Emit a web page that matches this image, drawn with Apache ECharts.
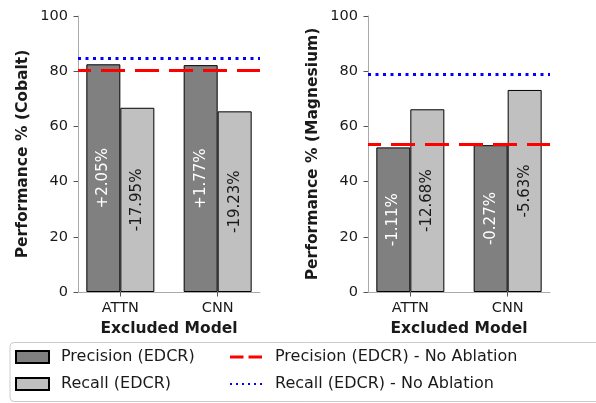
<!DOCTYPE html>
<html>
<head>
<meta charset="utf-8">
<script src="https://cdn.jsdelivr.net/npm/echarts@6/dist/echarts.min.js"></script>
<style>html,body{margin:0;padding:0;background:#fff;}#c{width:596px;height:403px;}</style>
</head>
<body>
<div id="c"></div>
<script>
// ---- data ----
var categories = ['ATTN', 'CNN'];
var yTicks = [0, 20, 40, 60, 80, 100];

var cobaltPrecision = [82.5, 82.2];
var cobaltRecall = [66.75, 65.45];
var cobaltPrecisionBase = 80.45;
var cobaltRecallBase = 84.7;
var cobaltPrecisionChange = ['+2.05%', '+1.77%'];
var cobaltRecallChange = ['-17.95%', '-19.23%'];

var magPrecision = [52.4, 53.2];
var magRecall = [66.2, 73.2];
var magPrecisionBase = 53.5;
var magRecallBase = 78.85;
var magPrecisionChange = ['-1.11%', '-0.27%'];
var magRecallChange = ['-12.68%', '-5.63%'];

var panelTitles = ['Performance % (Cobalt)', 'Performance % (Magnesium)'];
var xTitle = 'Excluded Model';
var names = ['Precision (EDCR)', 'Recall (EDCR)', 'Precision (EDCR) - No Ablation', 'Recall (EDCR) - No Ablation'];

// ---- chart ----
var FONT = 'DejaVu Sans';
var TXT = '#1a1a1a';
var chart = echarts.init(document.getElementById('c'), null, {renderer: 'canvas'});

function pairs(vals) { return vals.map(function (v, i) { return [i, v]; }); }

function xAxis(idx) {
  return {
    type: 'value', gridIndex: idx, min: -0.435, max: 1.435,
    splitLine: {show: false},
    axisLine: {show: true, onZero: false, lineStyle: {color: '#aaaaaa', width: 1}},
    axisTick: {show: true, length: 4.5, customValues: [0, 1], lineStyle: {color: '#555'}},
    axisLabel: {show: true, customValues: [0, 1], margin: 9, fontFamily: FONT, fontSize: 14.5, color: TXT,
      formatter: function (v) { return categories[Math.round(v)]; }},
    name: xTitle, nameLocation: 'middle', nameGap: 29,
    nameTextStyle: {fontFamily: FONT, fontSize: 15.5, fontWeight: 'bold', color: TXT}
  };
}
function yAxis(idx) {
  return {
    type: 'value', gridIndex: idx, min: yTicks[0], max: yTicks[yTicks.length - 1], interval: 20,
    splitLine: {show: false},
    axisLine: {show: true, onZero: false, lineStyle: {color: '#aaaaaa', width: 1}},
    axisTick: {show: true, length: 4.5, lineStyle: {color: '#555'}},
    axisLabel: {margin: 10, fontFamily: FONT, fontSize: 14.5, color: TXT},
    name: panelTitles[idx], nameLocation: 'middle', nameGap: 47, nameRotate: 90,
    nameTextStyle: {fontFamily: FONT, fontSize: 15.5, fontWeight: 'bold', color: TXT}
  };
}
function barSeries(idx, name, vals, changes, color, labelColor) {
  return {
    type: 'bar', name: name, xAxisIndex: idx, yAxisIndex: idx,
    data: pairs(vals), barWidth: 34, barGap: '0%',
    itemStyle: {color: color, borderColor: '#000', borderWidth: 1},
    label: {show: true, position: 'inside', rotate: 90, fontFamily: FONT, fontSize: 15, color: labelColor,
      formatter: function (p) { return changes[p.dataIndex]; }},
    emphasis: {disabled: true}, silent: true, z: 2
  };
}
function lineSeries(idx, name, base, color, dash, offset) {
  return {
    type: 'line', name: name, xAxisIndex: idx, yAxisIndex: idx, data: [],
    itemStyle: {color: color}, lineStyle: {color: color},
    markLine: {
      silent: true, symbol: ['none', 'none'], label: {show: false},
      lineStyle: {color: color, width: 3, type: dash, dashOffset: offset, cap: 'butt'},
      emphasis: {disabled: true},
      data: [{yAxis: base}]
    },
    z: 5
  };
}

var PREC = '#808080', REC = '#c0c0c0';
var dashIcon = 'path://M0,0h13.5v3h-13.5zM18.5,0h13.5v3h-13.5z';
var dotIcon = 'path://M0,0h2v2h-2zM6,0h2v2h-2zM12,0h2v2h-2zM18,0h2v2h-2zM24,0h2v2h-2zM30,0h2v2h-2z';

var legendText = {fontFamily: FONT, fontSize: 16, color: TXT, lineHeight: 18};

chart.setOption({
  animation: false,
  backgroundColor: '#fff',
  grid: [
    {left: 78, top: 16, width: 182, height: 276, containLabel: false},
    {left: 368, top: 16, width: 182, height: 276, containLabel: false}
  ],
  xAxis: [xAxis(0), xAxis(1)],
  yAxis: [yAxis(0), yAxis(1)],
  graphic: [{
    type: 'rect', shape: {x: 10, y: 342.5, width: 600, height: 59, r: 4},
    style: {fill: '#fff', stroke: '#cccccc', lineWidth: 1}, z: -1, silent: true
  }],
  legend: [
    {
      left: 15, top: 348, orient: 'vertical', padding: 0, itemGap: 9,
      itemWidth: 33, itemHeight: 12, selectedMode: false,
      textStyle: Object.assign({padding: [0, 0, 0, 7]}, legendText),
      data: [{name: names[0], icon: 'rect'}, {name: names[1], icon: 'rect'}]
    },
    {
      left: 230, top: 348, orient: 'vertical', padding: 0, itemGap: 9,
      itemWidth: 32, itemHeight: 12, selectedMode: false,
      textStyle: Object.assign({padding: [0, 0, 0, 8]}, legendText),
      data: [{name: names[2], icon: dashIcon}, {name: names[3], icon: dotIcon}]
    }
  ],
  series: [
    barSeries(0, names[0], cobaltPrecision, cobaltPrecisionChange, PREC, '#ffffff'),
    barSeries(0, names[1], cobaltRecall, cobaltRecallChange, REC, TXT),
    lineSeries(0, names[2], cobaltPrecisionBase, '#ff0000', [24, 10], 11),
    lineSeries(0, names[3], cobaltRecallBase, '#0000ff', [3, 4.5], 0),
    barSeries(1, names[0], magPrecision, magPrecisionChange, PREC, '#ffffff'),
    barSeries(1, names[1], magRecall, magRecallChange, REC, TXT),
    lineSeries(1, names[2], magPrecisionBase, '#ff0000', [24, 10], 11),
    lineSeries(1, names[3], magRecallBase, '#0000ff', [3, 4.5], 0)
  ]
});
</script>
</body>
</html>
